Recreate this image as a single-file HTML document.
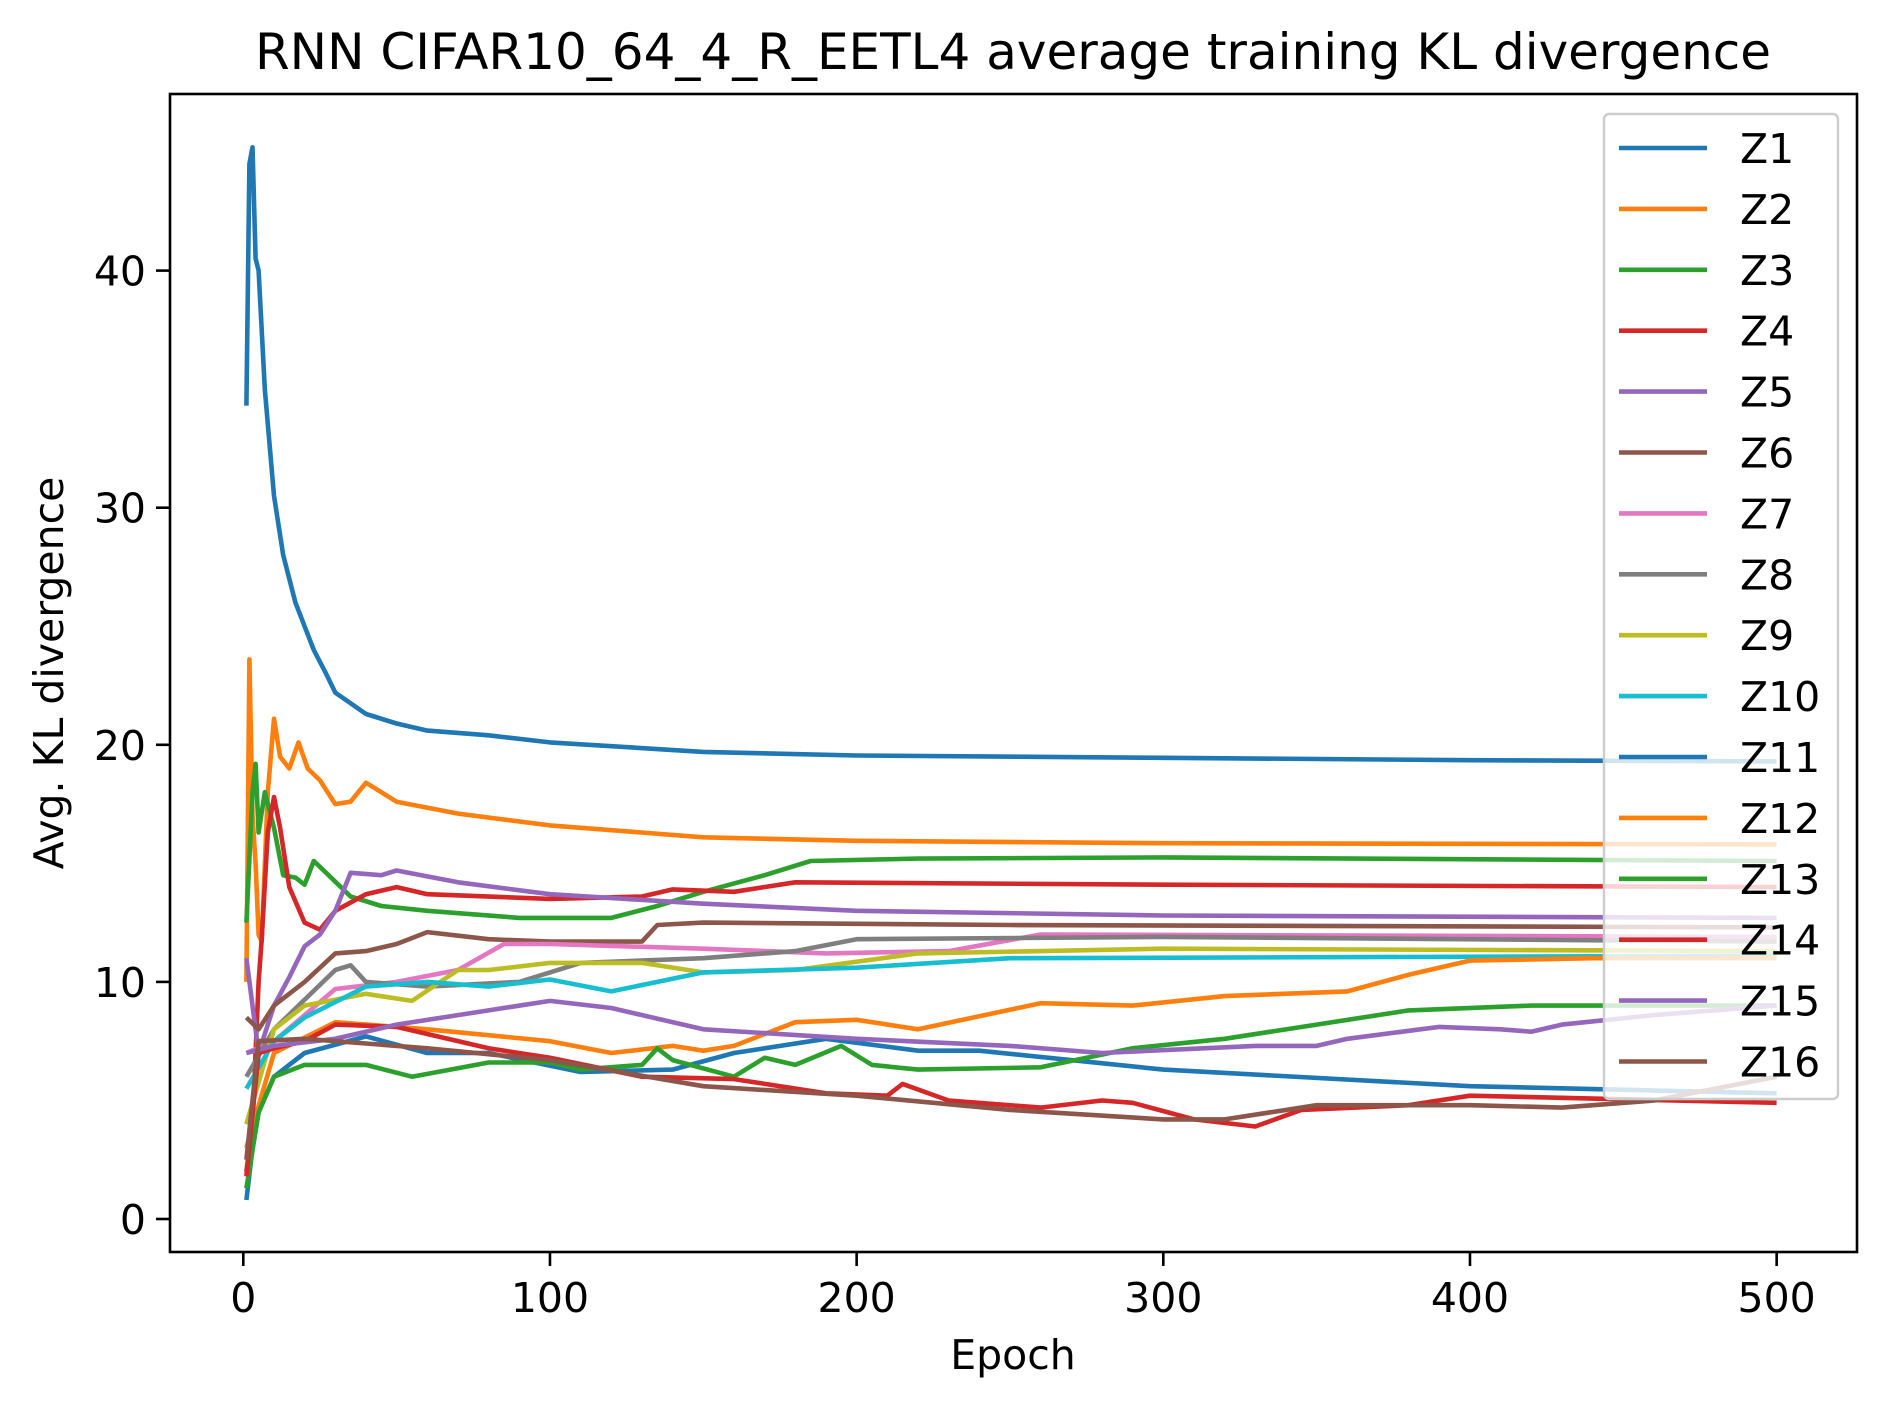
<!DOCTYPE html>
<html><head><meta charset="utf-8"><style>
html,body{margin:0;padding:0;background:#fff;}
svg{display:block;font-family:"DejaVu Sans","Liberation Sans",sans-serif;}
</style></head><body>
<svg id="chart" width="1887" height="1408" viewBox="0 0 1887 1408" xmlns="http://www.w3.org/2000/svg">
<rect width="1887" height="1408" fill="#fff"/>
<text x="1013" y="69" font-size="50" text-anchor="middle">RNN CIFAR10_64_4_R_EETL4 average training KL divergence</text>
<g id="plot"></g>
<g id="axes"></g>
<text x="1013" y="1369" font-size="41" text-anchor="middle">Epoch</text>
<text x="0" y="0" font-size="41" text-anchor="middle" transform="translate(63,673) rotate(-90)">Avg. KL divergence</text>
<g id="legend"></g>
</svg>
<script>
const xTicks=[0,100,200,300,400,500];
const yTicks=[0,10,20,30,40];
const names=["Z1","Z2","Z3","Z4","Z5","Z6","Z7","Z8","Z9","Z10","Z11","Z12","Z13","Z14","Z15","Z16"];
const colors=["#1f77b4","#ff7f0e","#2ca02c","#d62728","#9467bd","#8c564b","#e377c2","#7f7f7f","#bcbd22","#17becf","#1f77b4","#ff7f0e","#2ca02c","#d62728","#9467bd","#8c564b"];
const z1=[[1,34.3],[2,44.5],[3,45.2],[4,40.5],[5,40],[7,35],[10,30.5],[13,28],[17,26],[20,25],[23,24],[27,23],[30,22.2],[40,21.3],[50,20.9],[60,20.6],[80,20.4],[100,20.1],[150,19.7],[200,19.55],[300,19.45],[400,19.35],[500,19.3]];
const z2=[[1,10],[2,23.6],[3,17],[4,15],[5,12],[6,11.7],[8,18],[10,21.1],[12,19.5],[15,19],[18,20.1],[21,19],[25,18.5],[30,17.5],[35,17.6],[40,18.4],[45,18],[50,17.6],[70,17.1],[100,16.6],[150,16.1],[200,15.95],[300,15.85],[500,15.8]];
const z3=[[1,12.5],[3,18],[4,19.2],[5,16.3],[7,18],[10,16.5],[13,14.5],[17,14.4],[20,14.1],[23,15.1],[27,14.6],[35,13.6],[45,13.2],[60,13],[90,12.7],[120,12.7],[135,13.2],[150,13.8],[170,14.5],[185,15.1],[220,15.2],[300,15.25],[500,15.1]];
const z4=[[1,2],[3,4],[5,10],[6,11.8],[8,16.3],[10,17.8],[12,16.5],[15,14],[20,12.5],[25,12.2],[30,13],[40,13.7],[50,14],[60,13.7],[100,13.5],[130,13.6],[140,13.9],[160,13.8],[180,14.2],[300,14.1],[500,14]];
const z5=[[1,11],[3,9],[5,7],[10,9],[15,10.2],[20,11.5],[25,12],[30,13],[35,14.6],[45,14.5],[50,14.7],[70,14.2],[100,13.7],[150,13.3],[200,13],[300,12.8],[500,12.7]];
const z6=[[1,8.5],[5,8],[10,9],[20,10],[30,11.2],[40,11.3],[50,11.6],[60,12.1],[80,11.8],[100,11.7],[130,11.7],[135,12.4],[150,12.5],[250,12.4],[500,12.3]];
const z7=[[1,7],[10,7.5],[30,9.7],[50,10],[70,10.5],[85,11.6],[100,11.6],[150,11.4],[190,11.2],[230,11.3],[260,12],[500,11.9]];
const z8=[[1,6],[10,8],[30,10.5],[35,10.7],[40,10],[60,9.8],[90,10],[110,10.8],[150,11],[180,11.3],[200,11.8],[300,11.9],[500,11.7]];
const z9=[[1,4],[10,8],[20,9],[40,9.5],[55,9.2],[70,10.5],[80,10.5],[100,10.8],[130,10.8],[150,10.4],[180,10.5],[220,11.2],[300,11.4],[500,11.3]];
const z10=[[1,5.5],[10,7.5],[20,8.5],[40,9.8],[60,10],[80,9.8],[100,10.1],[120,9.6],[150,10.4],[200,10.6],[250,11],[500,11.1]];
const z11=[[1,0.8],[3,3],[5,4.5],[10,6],[20,7],[40,7.7],[60,7],[80,7],[110,6.2],[140,6.3],[160,7],[190,7.6],[220,7.1],[240,7.1],[300,6.3],[400,5.6],[500,5.3]];
const z12=[[1,3],[10,7],[30,8.3],[60,8],[100,7.5],[120,7],[140,7.3],[150,7.1],[160,7.3],[180,8.3],[200,8.4],[220,8],[260,9.1],[290,9],[320,9.4],[360,9.6],[380,10.3],[400,10.9],[440,11],[500,11]];
const z13=[[1,1.3],[5,4.5],[10,6],[20,6.5],[40,6.5],[55,6],[80,6.6],[100,6.6],[110,6.3],[130,6.5],[135,7.2],[140,6.7],[160,6],[170,6.8],[180,6.5],[195,7.3],[205,6.5],[220,6.3],[260,6.4],[290,7.2],[320,7.6],[350,8.2],[380,8.8],[420,9],[500,9]];
const z14=[[1,1.8],[5,7],[10,7.2],[20,7.5],[30,8.2],[50,8.1],[80,7.2],[100,6.8],[130,6],[160,5.9],[190,5.3],[210,5.2],[215,5.7],[230,5],[260,4.7],[280,5],[290,4.9],[310,4.2],[330,3.9],[345,4.6],[380,4.8],[400,5.2],[500,4.9]];
const z15=[[1,7],[10,7.3],[30,7.6],[50,8.2],[70,8.6],[100,9.2],[120,8.9],[150,8],[200,7.6],[250,7.3],[280,7],[330,7.3],[350,7.3],[360,7.6],[390,8.1],[410,8],[420,7.9],[430,8.2],[460,8.6],[500,9]];
const z16=[[1,2.5],[5,7.5],[20,7.6],[40,7.4],[60,7.2],[100,6.7],[150,5.6],[200,5.2],[250,4.6],[300,4.2],[320,4.2],[350,4.8],[400,4.8],[430,4.7],[460,5],[500,6]];
const series=[z1,z2,z3,z4,z5,z6,z7,z8,z9,z10,z11,z12,z13,z14,z15,z16];

const NS="http://www.w3.org/2000/svg";
const X0=243.3, XS=3.0667, Y0=1219, YS=23.71;
const L=170,T=94,R=1857,B=1252;
function xs(v){return X0+v*XS;}
function ys(v){return Y0-v*YS;}
function mk(tag,attrs,parent){const e=document.createElementNS(NS,tag);for(const k in attrs)e.setAttribute(k,attrs[k]);parent.appendChild(e);return e;}
const plot=document.getElementById('plot'), axes=document.getElementById('axes'), leg=document.getElementById('legend');
series.forEach((s,i)=>{
  const p=mk('polyline',{points:s.map(d=>xs(d[0]).toFixed(1)+','+ys(d[1]).toFixed(1)).join(' '),fill:'none',stroke:colors[i],'stroke-width':4.6,'stroke-linejoin':'round'},plot);
  
  
});
const frame=mk('rect',{x:L,y:T,width:R-L,height:B-T,fill:'none',stroke:'#000','stroke-width':2.6},axes);


xTicks.forEach(t=>{
  const tk=mk('line',{x1:xs(t),x2:xs(t),y1:B,y2:B+14,stroke:'#000','stroke-width':2.6},axes);
  
  
  const tx=mk('text',{x:xs(t),y:B+60,'font-size':41,'text-anchor':'middle'},axes);
  tx.textContent=t;
  
  
});
yTicks.forEach(t=>{
  const tk=mk('line',{x1:L-14,x2:L,y1:ys(t),y2:ys(t),stroke:'#000','stroke-width':2.6},axes);
  
  
  const tx=mk('text',{x:L-24,y:ys(t)+15,'font-size':41,'text-anchor':'end'},axes);
  tx.textContent=t;
  
  
});
const box=mk('rect',{x:1604,y:114,width:234,height:985,rx:5,fill:'#fff','fill-opacity':0.8,stroke:'#ccc','stroke-width':2.4},leg);


names.forEach((n,i)=>{
  const y=148+i*60.9;
  const ln=mk('line',{x1:1619,x2:1707,y1:y,y2:y,stroke:colors[i],'stroke-width':4.6},leg);
  
  
  const tx=mk('text',{x:1740,y:y+15,'font-size':41},leg);
  tx.textContent=n;
  
  
});
</script>
</body></html>
